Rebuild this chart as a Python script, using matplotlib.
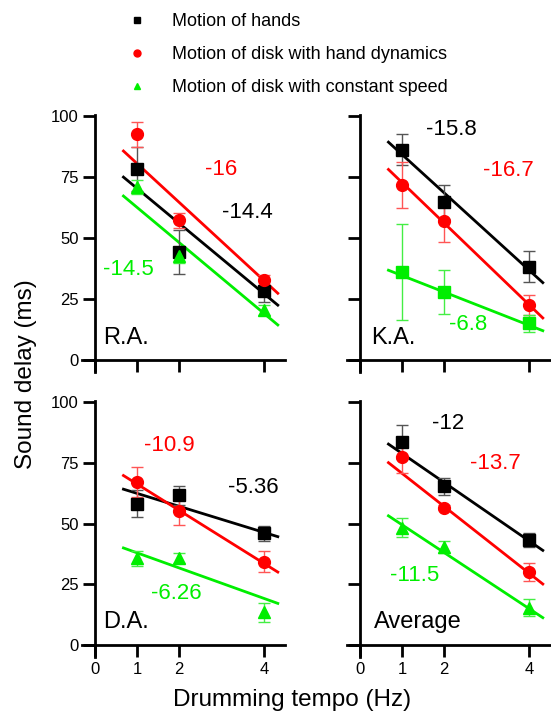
import numpy as np
import matplotlib
matplotlib.use("Agg")
import matplotlib.pyplot as plt
from matplotlib.lines import Line2D

plt.rcParams['font.family'] = ['Liberation Sans', 'DejaVu Sans']

# ---- DATA
tempo = [1, 2, 4]
subjects = ["R.A.", "K.A.", "D.A.", "Average"]
series_names = ["Motion of hands",
                "Motion of disk with hand dynamics",
                "Motion of disk with constant speed"]

# mean delay (ms) per subject, order: hands, hand dynamics, constant speed
hands_mean = {"R.A.": [78.2, 44.2, 28.4], "K.A.": [86.3, 64.7, 38.3],
              "D.A.": [58.2, 61.6, 45.9], "Average": [83.5, 65.3, 43.3]}
hands_err = {"R.A.": [9.0, 9.0, 4.5], "K.A.": [6.5, 7.0, 6.5],
             "D.A.": [5.7, 4.0, 3.0], "Average": [7.0, 3.5, 3.0]}
dyn_mean = {"R.A.": [92.5, 57.3, 32.9], "K.A.": [71.9, 56.8, 22.6],
            "D.A.": [67.1, 55.1, 34.2], "Average": [77.4, 56.5, 30.0]}
dyn_err = {"R.A.": [5.2, 3.0, 2.0], "K.A.": [9.5, 8.5, 4.0],
           "D.A.": [6.2, 5.5, 4.3], "Average": [6.5, 1.0, 3.7]}
const_mean = {"R.A.": [71.0, 42.8, 20.6], "K.A.": [35.9, 28.0, 15.1],
              "D.A.": [35.6, 35.9, 13.4], "Average": [48.3, 40.3, 15.3]}
const_err = {"R.A.": [3.0, 3.0, 2.0], "K.A.": [19.7, 9.0, 3.5],
             "D.A.": [3.0, 2.0, 4.0], "Average": [4.0, 2.5, 3.5]}

# regression lines: (slope, intercept)
hands_fit = {"R.A.": (-14.4, 84.8), "K.A.": (-15.8, 100.1),
             "D.A.": (-5.36, 67.8), "Average": (-12.0, 90.9)}
dyn_fit = {"R.A.": (-16.0, 96.6), "K.A.": (-16.7, 89.5),
           "D.A.": (-10.9, 77.2), "Average": (-13.7, 84.4)}
const_fit = {"R.A.": (-14.5, 77.1), "K.A.": (-6.8, 41.4),
             "D.A.": (-6.26, 44.2), "Average": (-11.5, 61.0)}

slope_labels = {"R.A.": ["-14.4", "-16", "-14.5"],
                "K.A.": ["-15.8", "-16.7", "-6.8"],
                "D.A.": ["-5.36", "-10.9", "-6.26"],
                "Average": ["-12", "-13.7", "-11.5"]}
label_pos = {"R.A.": [(3.6, 60.4), (3.0, 78.2), (0.8, 37.0)],
             "K.A.": [(2.17, 94.5), (3.51, 77.8), (2.57, 14.7)],
             "D.A.": [(3.74, 64.8), (1.76, 82.2), (1.93, 21.2)],
             "Average": [(2.09, 91.1), (3.2, 74.6), (1.31, 28.7)]}
name_pos = {"R.A.": (0.2, 9.0), "K.A.": (0.28, 9.0),
            "D.A.": (0.19, 9.6), "Average": (0.34, 9.5)}

# ---- STYLE
line_col = ["black", "#ff0000", "#00ee00"]
err_col = ["#555555", "#ff5555", "#44ee44"]
markers = {"R.A.": ["s", "o", "^"], "K.A.": ["s", "o", "s"],
           "D.A.": ["s", "o", "^"], "Average": ["s", "o", "^"]}

fig = plt.figure(figsize=(5.51, 7.17), dpi=100)
W, H = 551., 717.
pos = {"R.A.": (82, 372, 203, 257), "K.A.": (347, 372, 203, 257),
       "D.A.": (82, 657, 203, 256), "Average": (347, 657, 203, 256)}

xfit = np.array([0.68, 4.33])

for s in subjects:
    x0, yb, w, h = pos[s]
    ax = fig.add_axes([x0 / W, 1 - yb / H, w / W, h / H])
    means = [hands_mean[s], dyn_mean[s], const_mean[s]]
    errs = [hands_err[s], dyn_err[s], const_err[s]]
    fits = [hands_fit[s], dyn_fit[s], const_fit[s]]
    for k in range(3):
        m, b = fits[k]
        ax.plot(xfit, m * xfit + b, color=line_col[k], lw=2.0, zorder=2)
        ax.errorbar(tempo, means[k], yerr=errs[k], fmt='none',
                    ecolor=err_col[k], elinewidth=1.0, capsize=4.5,
                    capthick=1.0, zorder=3)
        ax.plot(tempo, means[k], linestyle='none', marker=markers[s][k],
                color=line_col[k], markersize=8.5, zorder=4)
        tx, ty = label_pos[s][k]
        ax.text(tx, ty, slope_labels[s][k], color=line_col[k], fontsize=16,
                ha='center', va='center')
    nx, ny = name_pos[s]
    ax.text(nx, ny, s, fontsize=17, ha='left', va='center')

    ax.set_xlim(-0.3, 4.5)
    ax.set_ylim(-5, 100.5)
    ax.spines['left'].set_position(('data', 0))
    ax.spines['bottom'].set_position(('data', 0))
    ax.spines['top'].set_visible(False)
    ax.spines['right'].set_visible(False)
    for sp in ['left', 'bottom']:
        ax.spines[sp].set_linewidth(2.0)
    ax.set_xticks([0, 1, 2, 4])
    ax.set_yticks([0, 25, 50, 75, 100])
    ax.tick_params(direction='out', length=8.5, width=2.0, labelsize=12)
    ax.tick_params(axis='x', pad=4)
    ax.tick_params(axis='y', pad=3)
    if s in ("K.A.", "Average"):
        ax.set_yticklabels([])
    if s in ("R.A.", "K.A."):
        ax.set_xticklabels([])
    ax.patch.set_visible(False)

fig.text(0.53, 0.024, "Drumming tempo (Hz)", fontsize=17.5, ha='center', va='center')
fig.text(0.047, 0.478, "Sound delay (ms)", fontsize=17.5, rotation=90,
         ha='center', va='center')

handles = [Line2D([], [], linestyle='none', marker=mk, color=c, markersize=5)
           for mk, c in zip(["s", "o", "^"], line_col)]
fig.legend(handles, series_names, loc='upper left',
           bbox_to_anchor=(121 / W, 1 - 6 / H), frameon=False, fontsize=13,
           handletextpad=1.45, labelspacing=0.89, handlelength=1.0,
           borderaxespad=0)

fig.savefig("out.png", dpi=100)
